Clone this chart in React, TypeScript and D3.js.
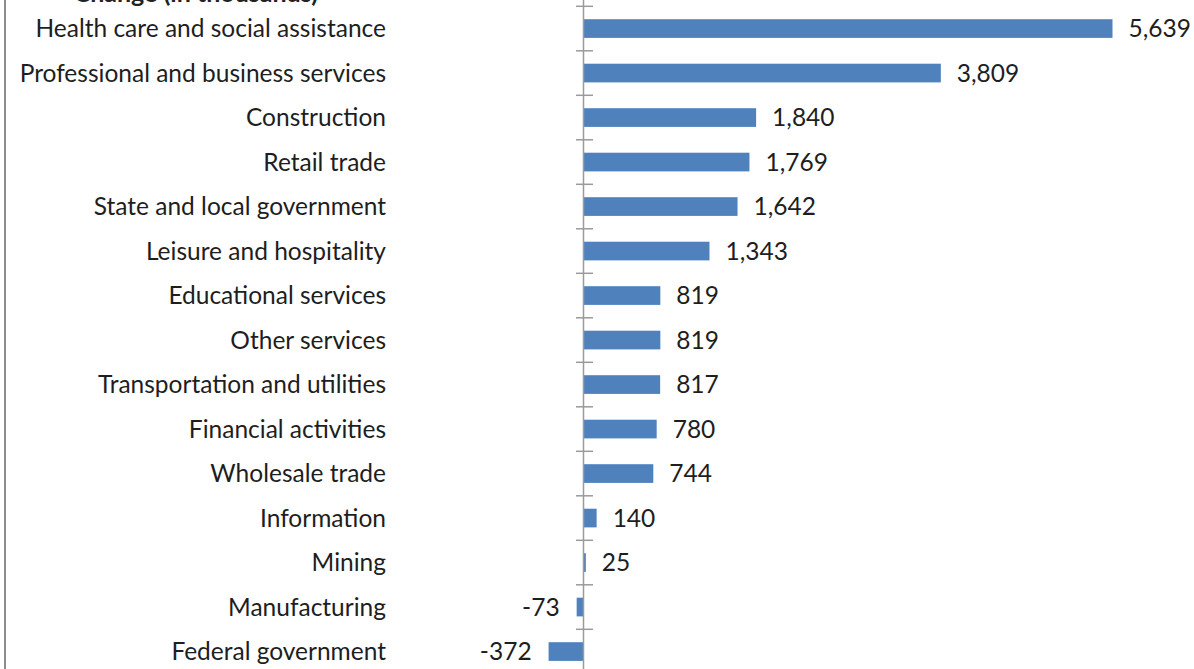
import React from "react";
import * as d3 from "d3";

const categories = [
  "Health care and social assistance",
  "Professional and business services",
  "Construction",
  "Retail trade",
  "State and local government",
  "Leisure and hospitality",
  "Educational services",
  "Other services",
  "Transportation and utilities",
  "Financial activities",
  "Wholesale trade",
  "Information",
  "Mining",
  "Manufacturing",
  "Federal government",
];
const values = [5639, 3809, 1840, 1769, 1642, 1343, 819, 819, 817, 780, 744, 140, 25, -73, -372];
const titleText = "Change (in thousands)";

const W = 1194;
const H = 669;
const FONT = "Lato, 'Open Sans', sans-serif";

const locale = d3.formatLocale({
  decimal: ".",
  thousands: ",",
  grouping: [3],
  currency: ["$", ""],
  minus: "-",
});

export default function App() {
  const step = 44.5;
  const y0 = 6.3;
  const y = d3
    .scaleBand<string>()
    .domain(categories)
    .range([y0, y0 + step * categories.length])
    .paddingInner(0.58)
    .paddingOuter(0.29);
  const x = d3.scaleLinear().domain([0, 5639]).range([583.5, 1112.5]);
  const fmt = locale.format(",");
  const boundaries = d3.range(categories.length + 1).map((i) => y0 + i * y.step());

  return (
    <svg
      width={W}
      height={H}
      style={{ position: "absolute", left: 0, top: 0, background: "#fff" }}
      fontFamily={FONT}
    >
      <rect x={0} y={0} width={W} height={H} fill="#fff" />
      <line x1={5} x2={5} y1={0} y2={H} stroke="#8c8c8c" strokeWidth={2} />
      <text x={318} y={1.5} textAnchor="end" fontSize={25} fontWeight="bold" fill="#222">
        {titleText}
      </text>
      {categories.map((c, i) => {
        const v = values[i];
        const yc = (y(c) as number) + y.bandwidth() / 2;
        const x1 = x(Math.min(0, v));
        const x2 = x(Math.max(0, v));
        return (
          <g key={c}>
            <rect x={x1} y={y(c)} width={Math.max(0.8, x2 - x1)} height={y.bandwidth()} fill="#4F81BD" />
            <text x={386} y={yc} dy="0.35em" textAnchor="end" fontSize={24.5} fill="#1e1e1e">
              {c}
            </text>
            <text
              x={v >= 0 ? x(v) + 16 : x(v) - 17}
              y={yc}
              dy="0.35em"
              textAnchor={v >= 0 ? "start" : "end"}
              fontSize={24.5}
              fill="#1e1e1e"
            >
              {fmt(v)}
            </text>
          </g>
        );
      })}
      <line x1={x(0)} x2={x(0)} y1={0} y2={H} stroke="#9a9a9a" strokeWidth={1.5} />
      {boundaries.map((b, i) => (
        <line key={i} x1={576} x2={593} y1={b} y2={b} stroke="#9a9a9a" strokeWidth={1.5} />
      ))}
    </svg>
  );
}
